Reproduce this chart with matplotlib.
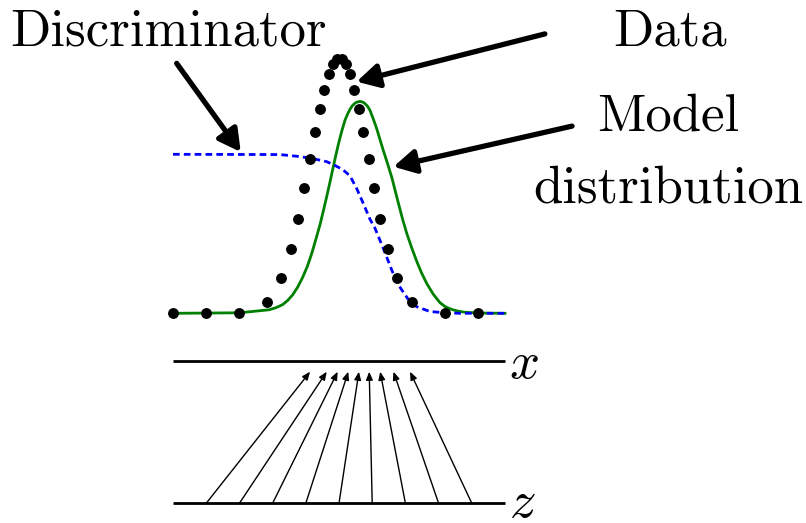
import matplotlib.pyplot as plt

plt.rcParams['mathtext.fontset'] = 'cm'

# data samples (dots)
data_x = [0.0, 1.0, 2.0, 2.83, 3.25, 3.54, 3.76, 3.96, 4.13, 4.28, 4.43, 4.56, 4.70, 4.82, 4.93,
          5.09, 5.21, 5.33, 5.45, 5.59, 5.73, 5.89, 6.06, 6.24, 6.48, 6.76, 7.21, 8.19, 9.19]
data_y = [0.0, 0.0, 0.0, 0.046, 0.140, 0.252, 0.372, 0.493, 0.608, 0.713, 0.804, 0.880, 0.941, 0.980, 1.003,
          1.003, 0.980, 0.941, 0.880, 0.804, 0.713, 0.608, 0.493, 0.372, 0.252, 0.140, 0.046, 0.0, 0.0]

# model distribution (green)
model_x = [0.0, 2.0, 2.3, 2.6, 2.9, 3.1, 3.3, 3.45, 3.6, 3.75, 3.9, 4.05, 4.18, 4.3, 4.43, 4.53, 4.63,
           4.72, 4.8, 4.89, 4.98, 5.08, 5.18, 5.26, 5.33, 5.40, 5.48, 5.55, 5.63,
           5.71, 5.78, 5.86, 5.93, 6.03, 6.14, 6.23, 6.33, 6.46, 6.59, 6.69, 6.79, 6.91, 7.04,
           7.19, 7.34, 7.49, 7.64, 7.84, 8.04, 8.2, 8.4, 8.6, 8.8, 9.3, 10.0]
model_y = [0.0, 0.002, 0.006, 0.010, 0.014, 0.022, 0.034, 0.050, 0.072, 0.102, 0.140, 0.186, 0.236, 0.290,
           0.350, 0.404, 0.460, 0.512, 0.560, 0.614, 0.665, 0.716, 0.760, 0.785, 0.803, 0.817, 0.827, 0.832, 0.834,
           0.832, 0.826, 0.815, 0.800, 0.766, 0.725, 0.686, 0.643, 0.590, 0.535, 0.484, 0.433, 0.373, 0.315,
           0.258, 0.205, 0.158, 0.118, 0.075, 0.042, 0.026, 0.015, 0.008, 0.004, 0.001, 0.0]

# discriminator (blue dashed)
disc_x = [0.0, 3.22, 3.83, 4.28, 4.63, 4.91, 5.13, 5.33, 5.53, 5.73, 5.93, 6.08, 6.33, 6.59,
          6.74, 6.89, 7.08, 7.34, 7.74, 8.19, 8.64, 10.0]
disc_y = [0.626, 0.625, 0.617, 0.607, 0.597, 0.580, 0.564, 0.541, 0.492, 0.433, 0.371, 0.336, 0.257, 0.170,
          0.123, 0.092, 0.056, 0.026, 0.007, 0.002, 0.0, 0.0]

# mapping z -> x
z_samples = [1, 2, 3, 4, 5, 6, 7, 8, 9]
x_mapped = [4.13, 4.63, 4.96, 5.28, 5.60, 5.91, 6.24, 6.64, 7.14]

x_line_y = -0.188
z_line_y = -0.748
arrow_top_y = -0.230

fig = plt.figure(figsize=(8.06, 5.23), dpi=100)
ax = fig.add_axes([0, 0, 1, 1])
ax.set_xlim(-5.211, 19.066)
ax.set_ylim(-0.8256, 1.2335)
ax.axis('off')

ax.plot(model_x, model_y, color='#008000', lw=2.0, zorder=2, solid_joinstyle='round')
ax.plot(disc_x, disc_y, color='#0000ff', lw=2.0, dashes=(2.4, 1.5), zorder=3)
ax.plot(data_x, data_y, 'o', color='black', ms=6.8, zorder=4)

# x and z axes
ax.plot([0, 10], [x_line_y, x_line_y], color='black', lw=2, solid_capstyle='butt')
ax.plot([0, 10], [z_line_y, z_line_y], color='black', lw=2, solid_capstyle='butt')
ax.text(10.12, -0.255, r'$x$', fontsize=38, va='baseline', ha='left')
ax.text(10.12, -0.802, r'$z$', fontsize=38, va='baseline', ha='left')

for z, x in zip(z_samples, x_mapped):
    ax.annotate('', xy=(x, arrow_top_y), xytext=(z, z_line_y),
                arrowprops=dict(arrowstyle='-|>,head_length=0.6,head_width=0.25',
                                lw=1, color='black', mutation_scale=8,
                                shrinkA=0, shrinkB=0))

# labels with thick arrows
big = dict(arrowstyle='-|>,head_length=1.1,head_width=0.6', lw=3.8, color='black',
           mutation_scale=12, shrinkA=0, shrinkB=0)
ax.annotate('', xy=(2.04, 0.635), xytext=(0.11, 0.984), arrowprops=big)
ax.annotate('', xy=(5.53, 0.912), xytext=(11.20, 1.100), arrowprops=big)
ax.annotate('', xy=(6.64, 0.577), xytext=(12.02, 0.737), arrowprops=big)

font = dict(family='cmr10', fontsize=38, va='baseline')
ax.text(-4.91, 1.056, 'Discriminator', ha='left', **font)
ax.text(14.97, 1.056, 'Data', ha='center', **font)
ax.text(14.91, 0.721, 'Model', ha='center', **font)
ax.text(14.91, 0.438, 'distribution', ha='center', **font)

fig.savefig('out.png', dpi=100)
